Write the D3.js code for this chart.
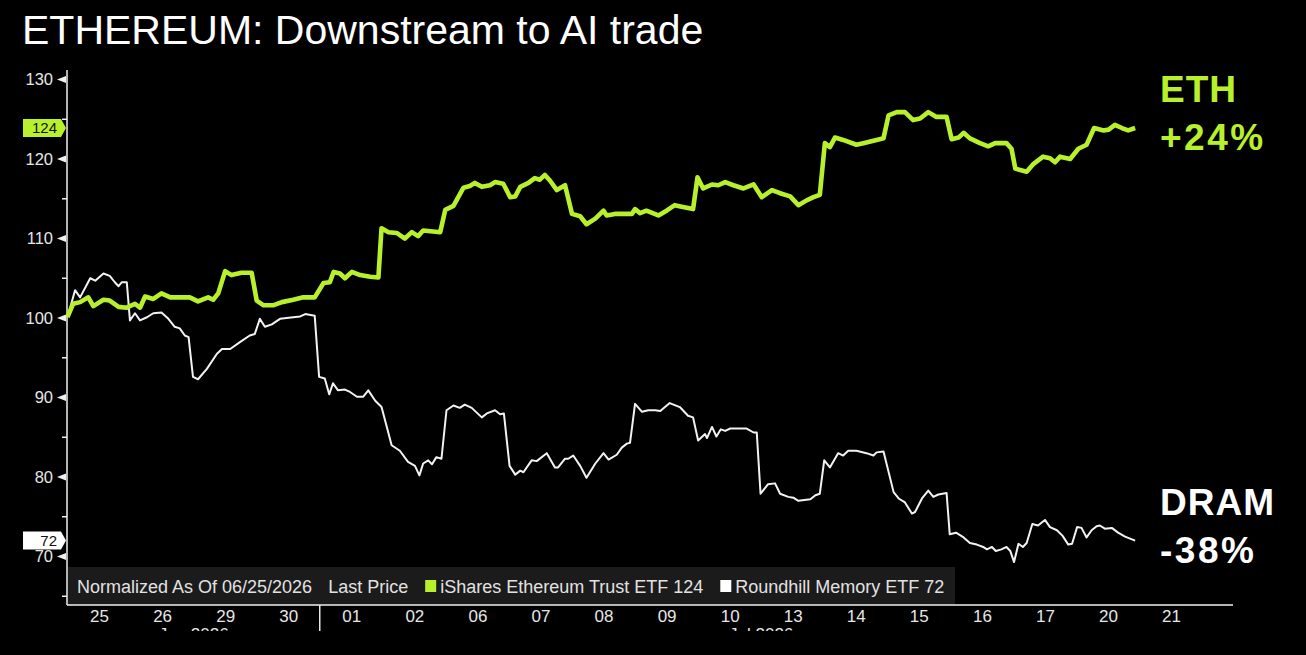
<!DOCTYPE html>
<html lang="en">
<head>
<meta charset="UTF-8">
<title>ETHEREUM: Downstream to AI trade</title>
<style>
    body { margin: 0; background: #000; }
    svg { display: block; font-family: "Liberation Sans", Arial, sans-serif; }
</style>
</head>
<body>
<div id="chart"></div>
<script src="https://d3js.org/d3.v7.min.js"></script>
<script>
// trading-day labels along the x axis (one band per session)
const dayLabels = ["25", "26", "29", "30", "01", "02", "06", "07", "08", "09",
                   "10", "13", "14", "15", "16", "17", "20", "21"];
const months = [
    {label: "Jun 2026", from: 0, to: 4},
    {label: "Jul 2026", from: 4, to: 18}
];
const yMajor = [70, 80, 90, 100, 110, 120, 130];
const yMinor = [65, 75, 85, 95, 105, 115, 125];

// [session index (fractional), normalized value]
const eth = [
    [0, 100.1], [0.09, 101.8], [0.20, 102.0], [0.33, 102.6], [0.41, 101.5], [0.57, 102.3],
    [0.67, 102.2], [0.81, 101.4], [0.94, 101.3], [1.07, 101.8], [1.15, 101.3], [1.23, 102.7],
    [1.36, 102.4], [1.49, 103.1], [1.63, 102.6], [1.78, 102.6], [1.94, 102.6], [2.07, 102.1],
    [2.23, 102.6], [2.31, 102.3], [2.39, 103.1], [2.50, 105.9], [2.60, 105.4], [2.76, 105.7],
    [2.92, 105.7], [3.00, 102.2], [3.11, 101.6], [3.26, 101.6], [3.40, 102.0], [3.58, 102.3],
    [3.74, 102.6], [3.92, 102.6], [4.06, 104.4], [4.16, 104.5], [4.22, 105.8], [4.32, 105.6],
    [4.40, 105.0], [4.51, 105.8], [4.64, 105.4], [4.80, 105.2], [4.93, 105.1], [4.98, 111.3],
    [5.09, 110.8], [5.22, 110.7], [5.35, 110.0], [5.46, 110.8], [5.56, 110.3], [5.64, 111.0],
    [5.91, 110.8], [5.99, 113.6], [6.12, 114.1], [6.28, 116.4], [6.38, 116.6], [6.46, 117.0],
    [6.57, 116.5], [6.70, 116.7], [6.78, 117.1], [6.91, 116.9], [7.02, 115.2], [7.10, 115.3],
    [7.18, 116.5], [7.31, 117.0], [7.41, 117.6], [7.49, 117.4], [7.57, 118.0], [7.65, 117.3],
    [7.76, 116.1], [7.89, 116.7], [8.00, 113.1], [8.13, 112.8], [8.23, 111.8], [8.37, 112.5],
    [8.50, 113.5], [8.55, 112.9], [8.68, 113.1], [8.95, 113.1], [9.00, 113.7], [9.08, 113.2],
    [9.18, 113.5], [9.37, 112.9], [9.50, 113.5], [9.63, 114.2], [9.74, 114.0], [9.92, 113.7],
    [9.99, 117.7], [10.08, 116.3], [10.22, 116.8], [10.32, 116.7], [10.43, 117.1], [10.56, 116.7],
    [10.72, 116.3], [10.88, 116.8], [11.01, 115.2], [11.17, 116.1], [11.30, 115.7], [11.46, 115.3],
    [11.59, 114.2], [11.72, 114.8], [11.83, 115.2], [11.93, 115.5], [12.01, 122.0], [12.09, 121.5],
    [12.17, 122.7], [12.30, 122.4], [12.51, 121.8], [12.62, 122.0], [12.83, 122.4], [12.94, 122.6],
    [13.02, 125.5], [13.15, 125.9], [13.28, 125.9], [13.41, 124.9], [13.52, 125.1], [13.65, 125.9],
    [13.78, 125.3], [13.94, 125.3], [14.02, 122.5], [14.13, 122.7], [14.21, 123.3], [14.31, 122.6],
    [14.47, 122.0], [14.60, 121.6], [14.71, 122.0], [14.89, 122.0], [14.97, 121.3], [15.03, 118.8],
    [15.21, 118.4], [15.32, 119.4], [15.47, 120.3], [15.58, 120.1], [15.66, 119.6], [15.74, 120.3],
    [15.90, 120.0], [16.03, 121.3], [16.16, 121.8], [16.28, 123.9], [16.43, 123.6], [16.51, 123.7],
    [16.61, 124.3], [16.72, 123.9], [16.82, 123.6], [16.93, 123.9]
];

const dram = [
    [0, 100.1], [0.12, 103.5], [0.20, 102.6], [0.36, 105.0], [0.44, 104.7], [0.57, 105.6],
    [0.67, 105.3], [0.75, 104.5], [0.81, 104.0], [0.86, 104.5], [0.94, 104.5], [0.99, 99.7],
    [1.07, 100.6], [1.15, 99.7], [1.26, 100.1], [1.36, 100.6], [1.49, 100.7], [1.60, 99.9],
    [1.70, 98.9], [1.78, 98.7], [1.86, 97.8], [1.92, 97.6], [1.99, 92.6], [2.07, 92.3],
    [2.21, 93.6], [2.37, 95.5], [2.45, 96.1], [2.58, 96.1], [2.74, 97.0], [2.89, 97.8],
    [2.97, 98.0], [3.05, 99.9], [3.13, 98.9], [3.24, 99.2], [3.37, 99.9], [3.58, 100.1],
    [3.69, 100.2], [3.77, 100.5], [3.92, 100.3], [3.99, 92.6], [4.08, 92.4], [4.15, 90.4],
    [4.21, 91.8], [4.29, 90.9], [4.40, 91.0], [4.48, 90.7], [4.59, 90.1], [4.69, 90.1],
    [4.77, 90.9], [4.88, 89.6], [4.98, 88.8], [5.14, 84.0], [5.27, 83.3], [5.40, 81.9],
    [5.51, 81.4], [5.58, 80.2], [5.64, 81.7], [5.72, 82.1], [5.78, 81.6], [5.85, 82.5],
    [5.93, 82.3], [6.01, 88.4], [6.12, 89.0], [6.22, 88.7], [6.30, 89.1], [6.41, 88.7],
    [6.57, 87.5], [6.65, 88.0], [6.78, 88.4], [6.86, 87.9], [6.92, 88.0], [7.01, 81.4],
    [7.10, 80.3], [7.18, 80.8], [7.23, 80.6], [7.36, 82.1], [7.44, 82.0], [7.60, 83.0],
    [7.73, 81.2], [7.78, 81.2], [7.89, 82.3], [7.94, 82.3], [8.02, 82.7], [8.13, 81.4],
    [8.23, 79.9], [8.37, 81.7], [8.50, 83.0], [8.58, 82.2], [8.71, 82.8], [8.79, 83.7],
    [8.87, 84.2], [8.92, 84.3], [9.00, 89.2], [9.11, 88.2], [9.21, 88.4], [9.32, 88.4],
    [9.40, 88.3], [9.55, 89.3], [9.71, 88.8], [9.84, 87.7], [9.92, 87.5], [10.00, 84.6],
    [10.11, 85.4], [10.14, 84.9], [10.22, 86.3], [10.29, 85.1], [10.36, 86.0], [10.43, 85.8],
    [10.51, 86.1], [10.61, 86.1], [10.77, 86.1], [10.88, 85.6], [10.93, 85.6], [10.99, 77.9],
    [11.11, 79.1], [11.22, 79.2], [11.30, 77.9], [11.43, 77.5], [11.51, 77.4], [11.59, 77.0],
    [11.78, 77.2], [11.86, 77.7], [11.93, 77.9], [12.00, 82.1], [12.09, 81.2], [12.22, 83.0],
    [12.30, 82.7], [12.38, 83.3], [12.51, 83.3], [12.67, 83.0], [12.78, 82.7], [12.83, 83.1],
    [12.94, 83.2], [13.10, 78.1], [13.18, 77.3], [13.28, 76.8], [13.39, 75.4], [13.44, 75.6],
    [13.55, 77.3], [13.65, 78.3], [13.73, 77.5], [13.81, 77.8], [13.94, 78.0], [13.99, 72.8],
    [14.09, 73.0], [14.21, 72.4], [14.31, 71.7], [14.42, 71.5], [14.52, 71.2], [14.58, 70.9],
    [14.66, 71.2], [14.72, 70.7], [14.81, 70.9], [14.89, 71.2], [14.95, 70.7], [15.01, 69.3],
    [15.08, 71.6], [15.15, 71.2], [15.21, 71.7], [15.30, 74.1], [15.39, 73.9], [15.50, 74.6],
    [15.58, 73.7], [15.69, 73.3], [15.78, 72.6], [15.87, 71.5], [15.93, 71.6], [16.01, 73.7],
    [16.08, 73.6], [16.16, 72.4], [16.24, 73.3], [16.32, 73.8], [16.37, 73.9], [16.45, 73.5],
    [16.56, 73.6], [16.66, 73.0], [16.77, 72.5], [16.93, 72.0]
];

const ethColor = "#b8f12b";
const dramColor = "#f2f2f2";

const W = 1306, H = 655;
const margin = {top: 70, left: 67, bottom: 605, axisRight: 1233};

const svg = d3.select("#chart").append("svg")
    .attr("width", W).attr("height", H)
    .style("background", "#000");

// scales
const x = d3.scaleLinear().domain([0, 18]).range([67.5, 1202.6]);
const y = d3.scaleLinear().domain([63.9, 131.2]).range([margin.bottom, margin.top]);

// title
svg.append("text")
    .attr("x", 22).attr("y", 44)
    .attr("fill", "#fff")
    .style("font-size", "41px")
    .text("ETHEREUM: Downstream to AI trade");

// y axis
const yAxis = svg.append("g")
    .attr("transform", `translate(${margin.left},0)`)
    .call(d3.axisLeft(y).tickValues(yMajor).tickSize(0).tickPadding(14));
yAxis.select(".domain").remove();
yAxis.selectAll("text")
    .attr("fill", "#e6e6e6")
    .style("font-size", "16.5px")
    .style("font-family", "'Liberation Sans', Arial, sans-serif");

svg.append("line")
    .attr("x1", margin.left).attr("x2", margin.left)
    .attr("y1", margin.top).attr("y2", margin.bottom)
    .attr("stroke", "#f0f0f0").attr("stroke-width", 1.5);

svg.selectAll(".ytri")
    .data(yMajor)
    .enter().append("path")
    .attr("class", "ytri")
    .attr("d", d => `M${margin.left - 10},${y(d)}L${margin.left - 1},${y(d) - 3.5}L${margin.left - 1},${y(d) + 3.5}Z`)
    .attr("fill", "#f0f0f0");

svg.selectAll(".yminor")
    .data(yMinor)
    .enter().append("line")
    .attr("class", "yminor")
    .attr("x1", margin.left - 5).attr("x2", margin.left)
    .attr("y1", d => y(d)).attr("y2", d => y(d))
    .attr("stroke", "#f0f0f0").attr("stroke-width", 1.5);

// lines
const line = d3.line().x(d => x(d[0])).y(d => y(d[1]));

svg.append("path")
    .datum(dram)
    .attr("d", line)
    .attr("fill", "none")
    .attr("stroke", dramColor)
    .attr("stroke-width", 2)
    .attr("stroke-linejoin", "round");

svg.append("path")
    .datum(eth)
    .attr("d", line)
    .attr("fill", "none")
    .attr("stroke", ethColor)
    .attr("stroke-width", 4.6)
    .attr("stroke-linejoin", "round");

// legend bar
svg.append("rect")
    .attr("x", margin.left + 1).attr("y", 567)
    .attr("width", 887).attr("height", margin.bottom - 567)
    .attr("fill", "#1b1b1b");

const legend = svg.append("g").style("font-size", "18px").attr("fill", "#e2e2e2");
let lx = 77;
const ly = 593;
function legendText(str, gap) {
    const t = legend.append("text").attr("x", lx).attr("y", ly).text(str);
    lx += t.node().getComputedTextLength() + gap;
}
function legendSwatch(color) {
    legend.append("rect").attr("x", lx).attr("y", 580).attr("width", 11).attr("height", 12).attr("fill", color);
    lx += 15;
}
legendText("Normalized As Of 06/25/2026", 16);
legendText("Last Price", 17);
legendSwatch(ethColor);
legendText("iShares Ethereum Trust ETF " + Math.round(eth[eth.length - 1][1]), 17);
legendSwatch("#ffffff");
legendText("Roundhill Memory ETF " + Math.round(dram[dram.length - 1][1]), 0);

// x axis
svg.append("line")
    .attr("x1", margin.left).attr("x2", margin.axisRight)
    .attr("y1", margin.bottom).attr("y2", margin.bottom)
    .attr("stroke", "#f0f0f0").attr("stroke-width", 1.5);

const xAxis = svg.append("g")
    .attr("transform", `translate(0,${margin.bottom})`)
    .call(d3.axisBottom(x)
        .tickValues(dayLabels.map((_, i) => i + 0.5))
        .tickFormat((d, i) => dayLabels[i])
        .tickSize(0).tickPadding(5));
xAxis.select(".domain").remove();
xAxis.selectAll("text")
    .attr("fill", "#e6e6e6")
    .style("font-size", "17px")
    .style("font-family", "'Liberation Sans', Arial, sans-serif");

// month separator and month labels (cut off at the bottom)
svg.selectAll(".msep")
    .data(months.slice(1))
    .enter().append("line")
    .attr("x1", d => x(d.from)).attr("x2", d => x(d.from))
    .attr("y1", margin.bottom).attr("y2", 631)
    .attr("stroke", "#e6e6e6").attr("stroke-width", 1.5);

svg.selectAll(".mlab")
    .data(months)
    .enter().append("text")
    .attr("x", d => x((d.from + d.to) / 2))
    .attr("y", 640)
    .attr("text-anchor", "middle")
    .attr("fill", "#e6e6e6")
    .style("font-size", "17px")
    .text(d => d.label);

svg.append("rect")
    .attr("x", 0).attr("y", 631).attr("width", W).attr("height", H - 631)
    .attr("fill", "#000");

// last value markers on the y axis
const lastVals = [
    {v: eth[eth.length - 1][1], fill: ethColor},
    {v: dram[dram.length - 1][1], fill: "#ffffff"}
];
lastVals.forEach(m => {
    const yy = y(m.v);
    svg.append("path")
        .attr("d", `M23,${yy - 9}L61,${yy - 9}L66,${yy}L61,${yy + 9}L23,${yy + 9}Z`)
        .attr("fill", m.fill);
    svg.append("text")
        .attr("x", 57).attr("y", yy + 5)
        .attr("text-anchor", "end")
        .attr("fill", "#111")
        .style("font-size", "15px")
        .text(Math.round(m.v));
});

// end annotations
const notes = [
    {name: "ETH", pct: "+24%", color: ethColor, y1: 102, y2: 150},
    {name: "DRAM", pct: "-38%", color: "#ffffff", y1: 515, y2: 563}
];
notes.forEach(n => {
    svg.append("text")
        .attr("x", 1160).attr("y", n.y1)
        .attr("fill", n.color)
        .style("font-size", "37px").style("font-weight", "bold")
        .style("letter-spacing", "1px")
        .text(n.name);
    svg.append("text")
        .attr("x", 1160).attr("y", n.y2)
        .attr("fill", n.color)
        .style("font-size", "37px").style("font-weight", "bold")
        .style("letter-spacing", "2.5px")
        .text(n.pct);
});
</script>
</body>
</html>
